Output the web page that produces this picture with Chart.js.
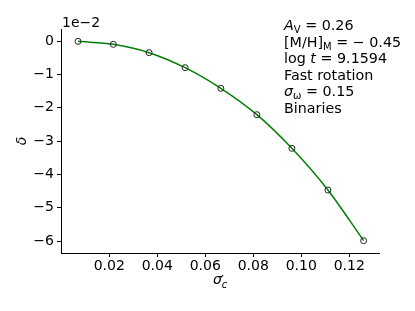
<!DOCTYPE html>
<html>
<head>
<meta charset="utf-8">
<script src="https://cdn.jsdelivr.net/npm/chart.js@4.4.1/dist/chart.umd.min.js"></script>
<style>
  body { margin: 0; background: #fff; }
  canvas { display: block; }
</style>
</head>
<body>
<canvas id="chart" width="415" height="311"></canvas>
<script>
// sigma'_c values and delta (in units of 1e-2)
const sigmaC = [0.0070, 0.0217, 0.0366, 0.0516, 0.0665, 0.0815, 0.0961, 0.1111, 0.1260];
const delta = [-0.01, -0.10, -0.35, -0.80, -1.42, -2.21, -3.22, -4.47, -5.99];

const xTicks = [0.02, 0.04, 0.06, 0.08, 0.10, 0.12];
const xTickLabels = ['0.02', '0.04', '0.06', '0.08', '0.10', '0.12'];
const yTicks = [0, -1, -2, -3, -4, -5, -6];
const yTickLabels = ['0', '\u22121', '\u22122', '\u22123', '\u22124', '\u22125', '\u22126'];

// annotation lines, each a list of runs [text, style]  (i = italic, s = subscript)
const infoLines = [
    [['A', 'i'], ['V', 's'], [' = 0.26', '']],
    [['[M/H]', ''], ['M', 's'], [' = \u2212 0.45', '']],
    [['log ', ''], ['t', 'i'], [' = 9.1594', '']],
    [['Fast rotation', '']],
    [['\u03c3', 'i'], ['\u03c9', 's'], [' = 0.15', '']],
    [['Binaries', '']]
];

const FONT = '"DejaVu Sans", sans-serif';
const SIZE = 14;

function drawRuns(ctx, x, y, runs, size) {
    runs.forEach(function (r) {
        var txt = r[0], st = r[1];
        var fs = st === 's' ? size * 0.7 : size;
        ctx.font = (st === 'i' ? 'italic ' : '') + fs + 'px ' + FONT;
        ctx.fillText(txt, x, st === 's' ? y + size * 0.22 : y);
        x += ctx.measureText(txt).width;
    });
    return x;
}

const textPlugin = {
    id: 'texts',
    afterDraw: function (chart) {
        const ctx = chart.ctx;
        const area = chart.chartArea;
        ctx.save();
        ctx.fillStyle = '#000';
        ctx.textBaseline = 'alphabetic';
        ctx.textAlign = 'left';

        // info box
        infoLines.forEach(function (line, i) {
            drawRuns(ctx, 284, 30 + i * 16.5, line, 14.3);
        });

        // offset text
        ctx.font = SIZE + 'px ' + FONT;
        ctx.fillText('1e\u22122', 62, 27);

        // x label
        ctx.font = 'italic ' + SIZE + 'px ' + FONT;
        var w = ctx.measureText('\u03c3').width;
        var cx = (area.left + area.right) / 2 - 7;
        drawRuns(ctx, cx, 284, [['\u03c3', 'i']], SIZE);
        ctx.font = SIZE + 'px ' + FONT;
        ctx.fillText('\u2032', cx + w - 1, 285);
        ctx.font = 'italic ' + (SIZE * 0.7) + 'px ' + FONT;
        ctx.fillText('c', cx + w, 288);

        // y label
        ctx.translate(22, (area.top + area.bottom) / 2);
        ctx.rotate(-Math.PI / 2);
        ctx.textAlign = 'center';
        ctx.textBaseline = 'middle';
        ctx.font = 'italic ' + SIZE + 'px ' + FONT;
        ctx.fillText('\u03b4', 0, 0);
        ctx.restore();
    }
};

const points = sigmaC.map(function (x, i) { return { x: x, y: delta[i] }; });

var chartCtx = document.getElementById('chart').getContext('2d');
var chart = new Chart(chartCtx, {
    type: 'scatter',
    data: {
        datasets: [{
            data: points,
            showLine: true,
            borderColor: '#008000',
            borderWidth: 1.5,
            cubicInterpolationMode: 'monotone',
            pointRadius: 3,
            pointBorderWidth: 1,
            pointBorderColor: '#222',
            pointBackgroundColor: 'rgba(0,0,0,0)',
            clip: false
        }]
    },
    options: {
        responsive: false,
        animation: false,
        layout: { padding: { top: 29, right: 36, left: 0, bottom: 0 } },
        plugins: { legend: { display: false }, tooltip: { enabled: false } },
        scales: {
            x: {
                type: 'linear',
                min: -0.0001,
                max: 0.1324,
                afterBuildTicks: function (s) { s.ticks = xTicks.map(function (v) { return { value: v }; }); },
                afterFit: function (s) { s.height = 58; },
                ticks: {
                    callback: function (v) { return xTickLabels[xTicks.indexOf(v)]; },
                    font: { family: FONT, size: SIZE },
                    color: '#000',
                    padding: 1,
                    maxRotation: 0,
                    autoSkip: false
                },
                grid: { drawOnChartArea: false, tickLength: 4, color: '#000' },
                border: { display: true, color: '#000', width: 1 }
            },
            y: {
                min: -6.36,
                max: 0.36,
                afterBuildTicks: function (s) { s.ticks = yTicks.map(function (v) { return { value: v }; }); },
                afterFit: function (s) { s.width = 61; },
                ticks: {
                    callback: function (v) { return yTickLabels[yTicks.indexOf(v)]; },
                    font: { family: FONT, size: SIZE },
                    color: '#000',
                    padding: 3
                },
                grid: { drawOnChartArea: false, tickLength: 4, color: '#000' },
                border: { display: true, color: '#000', width: 1 }
            }
        }
    },
    plugins: [textPlugin]
});
</script>
</body>
</html>
